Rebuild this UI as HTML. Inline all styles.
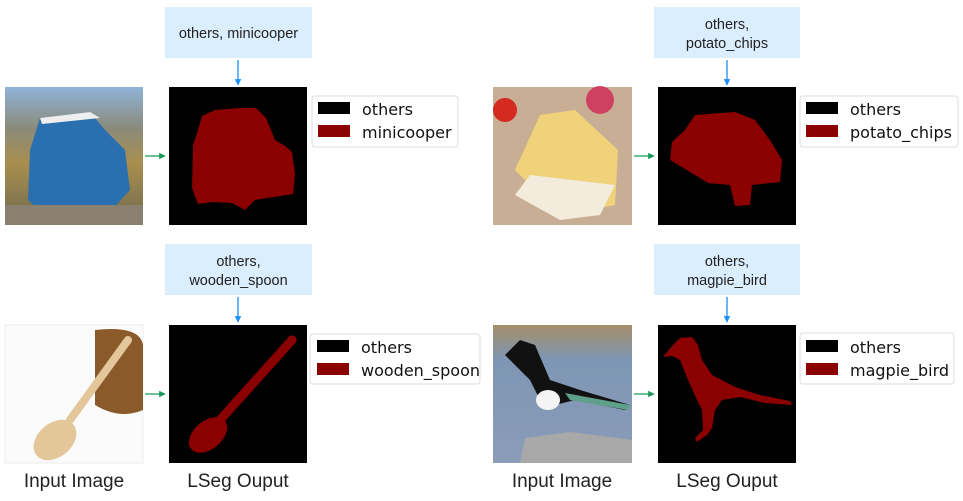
<!DOCTYPE html>
<html><head><meta charset="utf-8"><style>
html,body{margin:0;padding:0;background:#fff;width:963px;height:501px;overflow:hidden}
svg{display:block}
.lb{font-family:"DejaVu Sans","Liberation Sans",sans-serif;font-size:16px;fill:#111}
.bx{font-family:"Liberation Sans",sans-serif;font-size:14.5px;fill:#222}
.cap{font-family:"Liberation Sans",sans-serif;font-size:19px;fill:#222}
</style></head><body>
<svg width="963" height="501" viewBox="0 0 963 501">
<defs>
<marker id="ab" viewBox="0 0 10 10" refX="9" refY="5" markerWidth="5" markerHeight="5" orient="auto"><path d="M0,0L10,5L0,10z" fill="#1a8fff"/></marker>
<marker id="ag" viewBox="0 0 10 10" refX="9" refY="5" markerWidth="5" markerHeight="5" orient="auto"><path d="M0,0L10,5L0,10z" fill="#1a9a5a"/></marker>
<linearGradient id="sky" x1="0" y1="0" x2="0" y2="1"><stop offset="0" stop-color="#8fb4d8"/><stop offset=".3" stop-color="#8a8a7a"/><stop offset=".55" stop-color="#a98f4e"/><stop offset="1" stop-color="#6f6a50"/></linearGradient>
<linearGradient id="bg2" x1="0" y1="0" x2="0" y2="1"><stop offset="0" stop-color="#a48e6a"/><stop offset=".25" stop-color="#7e96b4"/><stop offset="1" stop-color="#8a9cb8"/></linearGradient>
</defs>

<!-- top-left -->
<rect x="165" y="7" width="147" height="51" fill="#dbeefe"/>
<text class="bx" x="238.5" y="38" text-anchor="middle">others, minicooper</text>
<line x1="238" y1="60" x2="238" y2="85" stroke="#1a8fff" stroke-width="1.3" marker-end="url(#ab)"/>
<rect x="5" y="87" width="138" height="138" fill="url(#sky)"/>
<path d="M28,200 L30,150 L40,118 L90,112 L105,130 L125,150 L130,190 L110,212 L40,212z" fill="#2a6fb0"/>
<path d="M40,118 L90,112 L100,118 L42,124z" fill="#eee"/>
<rect x="5" y="205" width="138" height="20" fill="#8a8070"/>
<line x1="145" y1="156" x2="165" y2="156" stroke="#1a9a5a" stroke-width="1.3" marker-end="url(#ag)"/>
<rect x="169" y="87" width="138" height="138" fill="#000"/>
<path d="M202,116 L215,110 L240,108 L256,108 L266,118 L275,140 L285,146 L292,152 L295,175 L293,194 L280,196 L255,200 L245,210 L232,203 L212,202 L198,204 L192,188 L193,145 L198,130z" fill="#8b0000"/>
<rect x="312" y="96" width="146" height="51" rx="3" fill="#fff" stroke="#ddd"/>
<rect x="318" y="102" width="32" height="12" fill="#000"/>
<rect x="318" y="125" width="32" height="12" fill="#8b0000"/>
<text class="lb" x="362" y="115">others</text>
<text class="lb" x="362" y="138">minicooper</text>

<!-- top-right -->
<rect x="654" y="7" width="146" height="51" fill="#dbeefe"/>
<text class="bx" x="727" y="29" text-anchor="middle">others,</text>
<text class="bx" x="727" y="48" text-anchor="middle">potato_chips</text>
<line x1="727" y1="60" x2="727" y2="85" stroke="#1a8fff" stroke-width="1.3" marker-end="url(#ab)"/>
<rect x="493" y="87" width="139" height="138" fill="#c9ae96"/>
<circle cx="505" cy="110" r="12" fill="#d42a20"/><circle cx="600" cy="100" r="14" fill="#d04060"/>
<path d="M515,170 L540,115 L575,110 L618,150 L615,205 L580,212 L545,200z" fill="#f0d27a"/>
<path d="M515,195 L530,175 L615,185 L600,215 L560,220z" fill="#f3ebdc"/>
<line x1="634" y1="156" x2="654" y2="156" stroke="#1a9a5a" stroke-width="1.3" marker-end="url(#ag)"/>
<rect x="658" y="87" width="138" height="138" fill="#000"/>
<path d="M672,142 L685,130 L695,115 L735,112 L755,120 L770,140 L782,160 L780,182 L752,185 L750,205 L735,206 L730,185 L708,183 L690,172 L670,160z" fill="#8b0000"/>
<rect x="800" y="96" width="158" height="51" rx="3" fill="#fff" stroke="#ddd"/>
<rect x="806" y="102" width="32" height="12" fill="#000"/>
<rect x="806" y="125" width="32" height="12" fill="#8b0000"/>
<text class="lb" x="850" y="115">others</text>
<text class="lb" x="850" y="138">potato_chips</text>

<!-- bottom-left -->
<rect x="165" y="244" width="147" height="51" fill="#dbeefe"/>
<text class="bx" x="238.5" y="266" text-anchor="middle">others,</text>
<text class="bx" x="238.5" y="285" text-anchor="middle">wooden_spoon</text>
<line x1="238" y1="297" x2="238" y2="322" stroke="#1a8fff" stroke-width="1.3" marker-end="url(#ab)"/>
<rect x="5" y="325" width="138" height="138" fill="#fbfbfb" stroke="#eee"/>
<path d="M95,330 Q140,325 143,345 L143,410 Q120,420 95,405z" fill="#8a5a2a"/>
<line x1="128" y1="340" x2="70" y2="420" stroke="#e3c69a" stroke-width="8" stroke-linecap="round"/>
<ellipse cx="55" cy="440" rx="24" ry="17" transform="rotate(-40 55 440)" fill="#e3c69a"/>
<line x1="145" y1="394" x2="165" y2="394" stroke="#1a9a5a" stroke-width="1.3" marker-end="url(#ag)"/>
<rect x="169" y="325" width="138" height="138" fill="#000"/>
<line x1="292" y1="340" x2="220" y2="420" stroke="#8b0000" stroke-width="9" stroke-linecap="round"/>
<ellipse cx="208" cy="435" rx="22" ry="14" transform="rotate(-40 208 435)" fill="#8b0000"/>
<rect x="310" y="334" width="170" height="50" rx="3" fill="#fff" stroke="#ddd"/>
<rect x="317" y="340" width="32" height="12" fill="#000"/>
<rect x="317" y="363" width="32" height="12" fill="#8b0000"/>
<text class="lb" x="361" y="353">others</text>
<text class="lb" x="361" y="376">wooden_spoon</text>
<text class="cap" x="74" y="487" text-anchor="middle">Input Image</text>
<text class="cap" x="238" y="487" text-anchor="middle">LSeg Ouput</text>

<!-- bottom-right -->
<rect x="654" y="244" width="146" height="51" fill="#dbeefe"/>
<text class="bx" x="727" y="266" text-anchor="middle">others,</text>
<text class="bx" x="727" y="285" text-anchor="middle">magpie_bird</text>
<line x1="727" y1="297" x2="727" y2="322" stroke="#1a8fff" stroke-width="1.3" marker-end="url(#ab)"/>
<rect x="493" y="325" width="139" height="138" fill="url(#bg2)"/>
<path d="M505,355 L520,340 L535,345 L550,380 L580,390 L630,405 L625,410 L575,400 L555,405 L540,400 L530,380z" fill="#111"/>
<ellipse cx="548" cy="400" rx="12" ry="10" fill="#f4f4f4"/>
<path d="M565,393 L630,405 L628,410 L570,400z" fill="#5fa08a"/>
<path d="M520,463 L525,438 L570,432 L632,440 L632,463z" fill="#a8a8a8"/>
<line x1="634" y1="394" x2="654" y2="394" stroke="#1a9a5a" stroke-width="1.3" marker-end="url(#ag)"/>
<rect x="658" y="325" width="138" height="138" fill="#000"/>
<path d="M663,357 L672,346 L680,338 L692,337 L698,345 L702,360 L712,375 L735,387 L760,395 L790,401 L792,405 L765,403 L740,397 L722,400 L715,410 L712,428 L705,438 L707,435 L697,442 L695,438 L703,430 L702,410 L697,400 L688,380 L680,360 L672,356z" fill="#8b0000"/>
<rect x="800" y="333" width="154" height="51" rx="3" fill="#fff" stroke="#ddd"/>
<rect x="806" y="340" width="32" height="12" fill="#000"/>
<rect x="806" y="363" width="32" height="12" fill="#8b0000"/>
<text class="lb" x="850" y="353">others</text>
<text class="lb" x="850" y="376">magpie_bird</text>
<text class="cap" x="562" y="487" text-anchor="middle">Input Image</text>
<text class="cap" x="727" y="487" text-anchor="middle">LSeg Ouput</text>
</svg>
</body></html>
